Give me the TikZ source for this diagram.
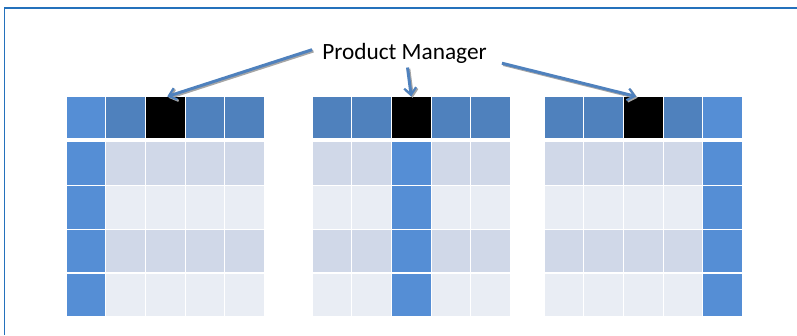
\documentclass[tikz,border=0pt]{standalone}
\usepackage{fontspec}
\setmainfont{Carlito}
\usetikzlibrary{arrows.meta}

\definecolor{hdrblue}{RGB}{79,129,189}
\definecolor{keyblue}{RGB}{85,142,213}
\definecolor{banddark}{RGB}{208,216,232}
\definecolor{bandlight}{RGB}{233,237,244}
\definecolor{frameblue}{RGB}{36,113,188}

\tikzset{
  cell/.style={draw=white,line width=1.2pt,inner sep=0pt,outer sep=0pt,
    minimum width=39.7pt,minimum height=43.8pt,anchor=north west},
  pmarrow/.style={hdrblue,line width=3pt,
    -{Straight Barb[length=7pt,width=12pt,line width=2.2pt]}},
  pmshadow/.style={pmarrow,draw=black!35,
    transform canvas={shift={(1.3pt,-1.3pt)}}}
}

\begin{document}
\begin{tikzpicture}[x=1pt,y=-1pt]
 \useasboundingbox (0,0) rectangle (797,335);
 % frame, top and left side only
 \draw[frameblue,line width=1.5pt] (4.5,335) -- (4.5,8) -- (797,8);

 % three tables, key column 1, 3 and 5
 \foreach \t/\x/\k in {1/66/1,2/312/3,3/544/5} {
   \foreach \c in {1,...,5} {
     \ifnum\c=3 \def\hc{black}\else\ifnum\c=\k \def\hc{keyblue}\else\def\hc{hdrblue}\fi\fi
     \node[cell,minimum height=42.5pt,fill=\hc] (t\t-1-\c) at ({\x+(\c-1)*39.7},96.5) {};
     \foreach \r in {2,...,5} {
       \ifnum\c=\k \def\bc{keyblue}\else\ifodd\r \def\bc{bandlight}\else\def\bc{banddark}\fi\fi
       \node[cell,fill=\bc] (t\t-\r-\c) at ({\x+(\c-1)*39.7},{141.5+(\r-2)*43.8}) {};
     }
   }
 }

 \node[font=\fontsize{23.3}{28}\selectfont,inner sep=0pt,anchor=base] (pm) at (404.5,59.3) {Product Manager};

 % arrows with their shadows
 \draw[pmshadow] ([shift={(-10,-3.5)}]pm.west) -- ([shift={(2,0)}]t1-1-3.north);
 \draw[pmshadow] ([shift={(3,4)}]pm.south) -- (t2-1-3.north);
 \draw[pmshadow] ([shift={(15,10)}]pm.east) -- ([shift={(-7,0)}]t3-1-3.north);
 \draw[pmarrow] ([shift={(-10,-3.5)}]pm.west) -- ([shift={(2,0)}]t1-1-3.north);
 \draw[pmarrow] ([shift={(3,4)}]pm.south) -- (t2-1-3.north);
 \draw[pmarrow] ([shift={(15,10)}]pm.east) -- ([shift={(-7,0)}]t3-1-3.north);
\end{tikzpicture}
\end{document}
